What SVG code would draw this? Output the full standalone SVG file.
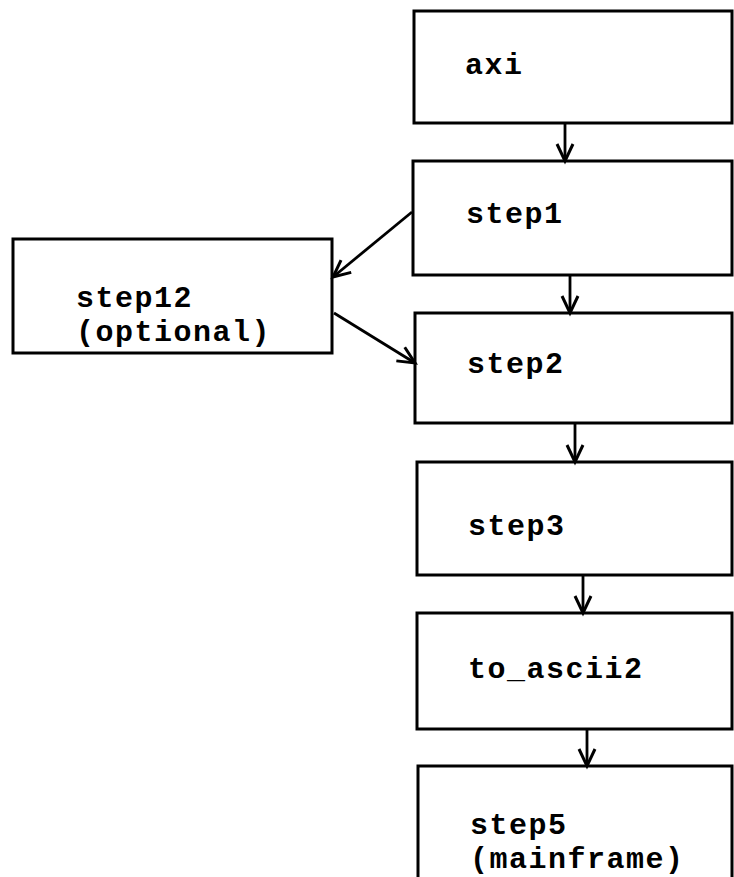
<svg xmlns="http://www.w3.org/2000/svg" width="734" height="877" viewBox="0 0 734 877">
<defs>
<style>
.box{fill:#fff;stroke:#000;stroke-width:3}
.lbl{font-family:"Liberation Mono","Courier New",monospace;font-size:30px;letter-spacing:1.5px;font-weight:bold;fill:#000}
.conn{stroke:#000;stroke-width:2.8;fill:none;marker-end:url(#arr)}
</style>
<marker id="arr" markerUnits="userSpaceOnUse" markerWidth="20" markerHeight="20" refX="0" refY="0" orient="auto" overflow="visible">
<path d="M-17,-8 L0,0 L-17,8" fill="none" stroke="#000" stroke-width="3" stroke-linejoin="miter"/>
</marker>
</defs>
<rect width="734" height="877" fill="#fff"/>
<g id="axi"><rect class="box" x="414" y="11" width="318" height="112"/><text class="lbl" x="465" y="74">axi</text></g>
<g id="step1"><rect class="box" x="413" y="161" width="319" height="114"/><text class="lbl" x="466" y="223">step1</text></g>
<g id="step12"><rect class="box" x="13" y="239" width="319" height="114"/><text class="lbl" x="76" y="307">step12</text><text class="lbl" x="76" y="341">(optional)</text></g>
<g id="step2"><rect class="box" x="415" y="313" width="317" height="110"/><text class="lbl" x="467" y="373">step2</text></g>
<g id="step3"><rect class="box" x="417" y="462" width="315" height="113"/><text class="lbl" x="468" y="535">step3</text></g>
<g id="to_ascii2"><rect class="box" x="417" y="613" width="315" height="116"/><text class="lbl" x="468" y="678">to_ascii2</text></g>
<g id="step5"><rect class="box" x="418" y="766" width="314" height="130"/><text class="lbl" x="470" y="834">step5</text><text class="lbl" x="470" y="868">(mainframe)</text></g>
<g id="connectors">
<path class="conn" d="M565 123 L565 161"/>
<path class="conn" d="M570 275 L570 313"/>
<path class="conn" d="M575 423 L575 462"/>
<path class="conn" d="M583 575 L583 613"/>
<path class="conn" d="M587 729 L587 766"/>
<path class="conn" d="M412 212 L333 277"/>
<path class="conn" d="M334 313 L415 363"/>
</g>
</svg>
